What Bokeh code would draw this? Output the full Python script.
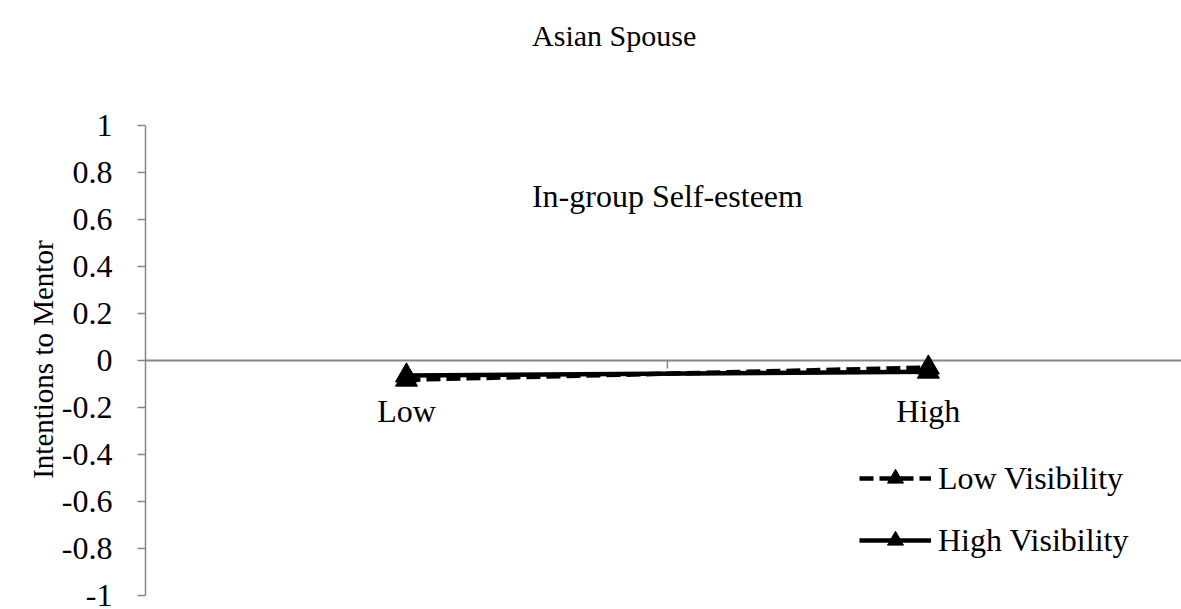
from bokeh.plotting import figure
from bokeh.models import (Range1d, FixedTicker, CustomJSTickFormatter, Legend, LegendItem)
from bokeh.core.properties import value
from bokeh.embed import file_html
from bokeh.resources import INLINE

categories = ["Low", "High"]
cat_x = [0.5, 1.5]
low_visibility = [-0.082, -0.030]
high_visibility = [-0.064, -0.048]
y_ticks = [-1, -0.8, -0.6, -0.4, -0.2, 0, 0.2, 0.4, 0.6, 0.8, 1]

FONT = "Liberation Serif"
FS = "32px"
GRAY = "#868686"

p = figure(width=1181, height=609, output_backend="svg", toolbar_location=None,
           x_range=Range1d(0, 1.985), y_range=Range1d(-1, 1.532),
           min_border_left=145, min_border_right=0, min_border_top=0, min_border_bottom=14)
p.outline_line_color = None
p.xgrid.visible = False
p.ygrid.visible = False
p.xaxis.visible = False

ya = p.yaxis[0]
ya.bounds = (-1, 1)
ya.ticker = FixedTicker(ticks=y_ticks)
ya.formatter = CustomJSTickFormatter(code="return (Math.round(tick*10)/10).toString();")
ya.axis_line_color = GRAY
ya.axis_line_width = 1.5
ya.major_tick_line_color = GRAY
ya.major_tick_line_width = 1.5
ya.major_tick_in = 0
ya.major_tick_out = 8
ya.minor_tick_line_color = None
ya.major_label_text_font = FONT
ya.major_label_text_font_size = FS
ya.major_label_text_color = "black"
ya.major_label_standoff = 25
# trailing no-break spaces re-centre the label on the -1..1 span of the axis
ya.axis_label = "Intentions to Mentor" + "\u00a0" * 17
ya.axis_label_text_font = FONT
ya.axis_label_text_font_size = "29px"
ya.axis_label_text_font_style = "normal"
ya.axis_label_text_color = "black"
ya.axis_label_standoff = 0

# chart title
p.text(x=[0.898], y=[1.383], text=["Asian Spouse"], text_font=value(FONT), text_font_size="30px",
       text_align="center", text_baseline="middle", text_color="black")

# horizontal category axis at y=0
p.segment(x0=[0], y0=[0], x1=[1.985], y1=[0], line_color=GRAY, line_width=2)
p.segment(x0=[1.0], y0=[0], x1=[1.0], y1=[-0.034], line_color=GRAY, line_width=1.5)

p.text(x=cat_x, y=[-0.213] * 2, text=categories, text_font=value(FONT), text_font_size=FS,
       text_align="center", text_baseline="middle", text_color="black")
p.text(x=[1.0], y=[0.70], text=["In-group Self-esteem"], text_font=value(FONT), text_font_size=FS,
       text_align="center", text_baseline="middle", text_color="black")

l1 = p.line(cat_x, low_visibility, line_color="black", line_width=4.5, line_dash="14 6")
s1 = p.scatter(cat_x, low_visibility, marker="triangle", size=22, color="black")
l2 = p.line(cat_x, high_visibility, line_color="black", line_width=4.5)
s2 = p.scatter(cat_x, high_visibility, marker="triangle", size=22, color="black")

legend = Legend(items=[LegendItem(label="Low Visibility", renderers=[l1, s1]),
                       LegendItem(label="High Visibility", renderers=[l2, s2])],
                location=(714, 35), padding=0, margin=0, spacing=22,
                glyph_width=72, glyph_height=40, label_standoff=7,
                label_text_font=FONT, label_text_font_size=FS, label_text_color="black",
                border_line_alpha=0, background_fill_alpha=0)
p.add_layout(legend, "center")

open("out.html", "w").write(file_html(p, INLINE))
